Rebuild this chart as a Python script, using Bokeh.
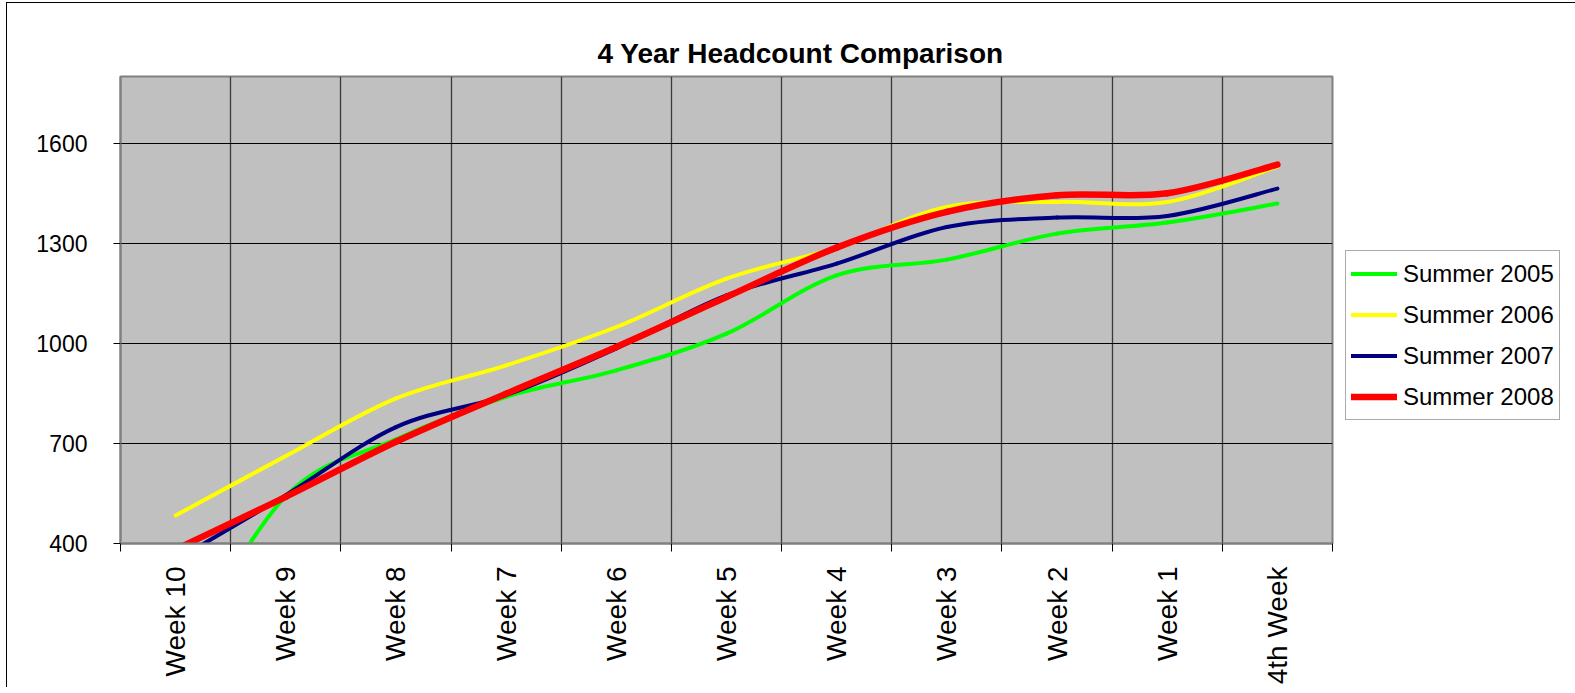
import math
from bokeh.plotting import figure
from bokeh.models import Range1d, FixedTicker, Legend, LegendItem, ColumnDataSource
from bokeh.embed import file_html
from bokeh.resources import INLINE

weeks = ["Week 10", "Week 9", "Week 8", "Week 7", "Week 6", "Week 5",
         "Week 4", "Week 3", "Week 2", "Week 1", "4th Week"]
summer_2005 = [30, 542, 712, 840, 919, 1029, 1204, 1251, 1329, 1362, 1419]
summer_2006 = [484, 662, 835, 934, 1049, 1194, 1287, 1409, 1424, 1424, 1530]
summer_2007 = [350, 545, 749, 845, 985, 1144, 1239, 1349, 1377, 1382, 1464]
summer_2008 = [382, 540, 705, 849, 989, 1139, 1287, 1394, 1444, 1450, 1536]

series = [
    ("Summer 2005", summer_2005, "#00FF00", 4),
    ("Summer 2006", summer_2006, "#FFFF00", 4),
    ("Summer 2007", summer_2007, "#000080", 4),
    ("Summer 2008", summer_2008, "#FF0000", 6.5),
]

xc = [i + 0.5 for i in range(len(weeks))]
bounds = list(range(len(weeks) + 1))


def bezier_source(xs, ys):
    n = len(xs)
    d = dict(x0=[], y0=[], x1=[], y1=[], cx0=[], cy0=[], cx1=[], cy1=[])
    for i in range(n - 1):
        im = max(i - 1, 0)
        ip2 = min(i + 2, n - 1)
        d["x0"].append(xs[i]); d["y0"].append(ys[i])
        d["x1"].append(xs[i + 1]); d["y1"].append(ys[i + 1])
        d["cx0"].append(xs[i] + (xs[i + 1] - xs[im]) / 6)
        d["cy0"].append(ys[i] + (ys[i + 1] - ys[im]) / 6)
        d["cx1"].append(xs[i + 1] - (xs[ip2] - xs[i]) / 6)
        d["cy1"].append(ys[i + 1] - (ys[ip2] - ys[i]) / 6)
    return ColumnDataSource(d)


p = figure(frame_width=1212, frame_height=467,
           x_range=Range1d(0, len(weeks)), y_range=Range1d(400, 1800),
           output_backend="svg", toolbar_location=None,
           min_border_left=113, min_border_top=73, min_border_right=240,
           min_border_bottom=142,
           background_fill_color="#C0C0C0", border_fill_color="white")

p.title.text = "4 Year Headcount Comparison"
p.title.align = "left"
p.title.offset = 477
p.title.standoff = 16
p.title.text_font = "Liberation Sans"
p.title.text_font_size = "28px"
p.title.text_font_style = "bold"
p.title.text_color = "black"

p.outline_line_color = "#808080"
p.outline_line_width = 2

# grids
p.xgrid.ticker = FixedTicker(ticks=bounds)
p.xgrid.grid_line_color = "#3a3a3a"
p.xgrid.grid_line_width = 1.3
p.ygrid.ticker = FixedTicker(ticks=[400, 700, 1000, 1300, 1600])
p.ygrid.grid_line_color = "black"
p.ygrid.grid_line_width = 1

# y axis
p.yaxis.ticker = FixedTicker(ticks=[400, 700, 1000, 1300, 1600])
p.yaxis.major_tick_out = 7
p.yaxis.major_tick_in = 0
p.yaxis.major_tick_line_color = "black"
p.yaxis.minor_tick_line_color = None
p.yaxis.axis_line_color = "#808080"
p.yaxis.axis_line_width = 2
p.yaxis.major_label_text_font = "Liberation Sans"
p.yaxis.major_label_text_font_size = "23px"
p.yaxis.major_label_text_color = "black"
p.yaxis.major_label_standoff = 26

# x axis
p.xaxis.ticker = FixedTicker(ticks=xc, minor_ticks=bounds)
p.xaxis.major_label_overrides = {c: w for c, w in zip(xc, weeks)}
p.xaxis.major_label_orientation = math.pi / 2
p.xaxis.major_tick_out = 0
p.xaxis.major_tick_in = 0
p.xaxis.minor_tick_out = 8
p.xaxis.minor_tick_in = 0
p.xaxis.minor_tick_line_color = "black"
p.xaxis.axis_line_color = "#808080"
p.xaxis.axis_line_width = 2
p.xaxis.major_label_text_font = "Liberation Sans"
p.xaxis.major_label_text_font_size = "28px"
p.xaxis.major_label_text_color = "black"
p.xaxis.major_label_standoff = 15

items = []
for name, ys, color, lw in series:
    src = bezier_source(xc, ys)
    r = p.bezier(x0="x0", y0="y0", x1="x1", y1="y1", cx0="cx0", cy0="cy0",
                 cx1="cx1", cy1="cy1", source=src, line_color=color,
                 line_width=lw, line_cap="round")
    items.append(LegendItem(label=name, renderers=[r]))

legend = Legend(items=items, location=(13, 123), orientation="vertical",
                padding=5, spacing=6, margin=0, glyph_width=46, glyph_height=35,
                label_height=35, label_standoff=6,
                label_text_font="Liberation Sans", label_text_font_size="24px",
                label_text_color="black", border_line_color="#555555",
                border_line_width=1.5, background_fill_color="white",
                background_fill_alpha=1)
p.add_layout(legend, "right")

p.styles = {"border-left": "1px solid black", "border-top": "1px solid black",
            "margin-left": "6px", "margin-top": "2px"}

open("out.html", "w").write(file_html(p, INLINE))
